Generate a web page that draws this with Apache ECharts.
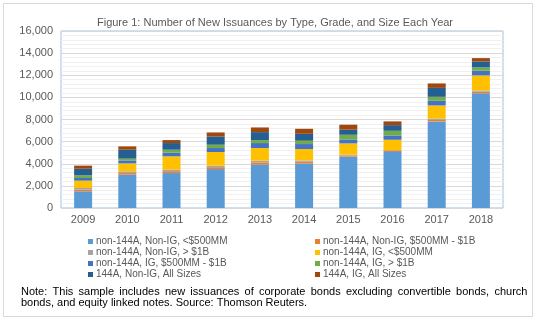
<!DOCTYPE html>
<html>
<head>
<meta charset="utf-8">
<script src="https://cdn.jsdelivr.net/npm/echarts@6/dist/echarts.min.js"></script>
<style>
html,body{margin:0;padding:0;background:#fff;}
#frame{position:absolute;left:3px;top:3px;width:530px;height:314px;border:1px solid #d9d9d9;box-sizing:border-box;}
#chart{position:absolute;left:0;top:0;width:540px;height:321px;}
</style>
</head>
<body>
<div id="frame"></div>
<div id="chart"></div>
<script>
const years = ['2009','2010','2011','2012','2013','2014','2015','2016','2017','2018'];
const nonIgSmall  = [1510, 3010, 3160, 3520, 3920, 4030, 4640, 5060, 7830, 10380];
const nonIgMid    = [160, 150, 170, 170, 200, 150, 100, 100, 130, 150];
const nonIgLarge  = [140, 150, 140, 140, 160, 120, 80, 80, 110, 100];
const igSmall     = [660, 720, 1200, 1230, 1140, 1030, 1020, 930, 1200, 1360];
const igMid       = [240, 270, 330, 360, 450, 450, 360, 390, 420, 420];
const igLarge     = [240, 160, 270, 300, 270, 300, 420, 420, 360, 300];
const a144NonIg   = [600, 810, 600, 750, 720, 630, 460, 510, 810, 540];
const a144Ig      = [280, 300, 270, 360, 420, 450, 450, 340, 400, 300];
const seriesNames = [
  'non-144A, Non-IG, <$500MM',
  'non-144A, Non-IG, $500MM - $1B',
  'non-144A, Non-IG, > $1B',
  'non-144A, IG, <$500MM',
  'non-144A, IG, $500MM - $1B',
  'non-144A, IG, > $1B',
  '144A, Non-IG, All Sizes',
  '144A, IG, All Sizes'
];
const seriesData = [nonIgSmall, nonIgMid, nonIgLarge, igSmall, igMid, igLarge, a144NonIg, a144Ig];
const colors = ['#5B9BD5','#ED7D31','#A5A5A5','#FFC000','#4472C4','#70AD47','#255E91','#9E480E'];
const noteLine1 = 'Note: This sample includes new issuances of corporate bonds excluding convertible bonds, church';
const noteLine2 = 'bonds, and equity linked notes. Source: Thomson Reuters.';

const chart = echarts.init(document.getElementById('chart'), null, {renderer:'canvas'});
const font = 'Liberation Sans, Arial, sans-serif';
const legendCommon = {
  orient: 'vertical', top: 236.5, itemWidth: 5, itemHeight: 5, itemGap: 1,
  icon: 'rect',
  textStyle: {fontFamily: font, fontSize: 10, color: '#595959', lineHeight: 10, padding: [0,0,0,-2]},
  padding: 0
};
chart.setOption({
  animation: false,
  color: colors,
  title: {
    text: 'Figure 1: Number of New Issuances by Type, Grade, and Size Each Year',
    left: 270, textAlign: 'center', top: 12,
    textStyle: {fontFamily: font, fontSize: 11, fontWeight: 'normal', color: '#595959'}
  },
  legend: [
    Object.assign({}, legendCommon, {left: 88, data: [seriesNames[0], seriesNames[2], seriesNames[4], seriesNames[6]]}),
    Object.assign({}, legendCommon, {left: 315, data: [seriesNames[1], seriesNames[3], seriesNames[5], seriesNames[7]]})
  ],
  grid: {left: 61, right: 37, top: 31, bottom: 113, show: true, borderColor: '#9DC3E6', borderWidth: 1, backgroundColor: 'transparent'},
  xAxis: {
    type: 'category', data: years,
    axisLine: {show: false}, axisTick: {show: false},
    axisLabel: {fontFamily: font, fontSize: 11, color: '#595959', margin: 6}
  },
  yAxis: {
    type: 'value', min: 0, max: 16000, interval: 2000,
    axisLine: {show: false}, axisTick: {show: false},
    axisLabel: {fontFamily: font, fontSize: 11, color: '#595959', margin: 8,
      formatter: v => v.toLocaleString('en-US')},
    splitLine: {lineStyle: {color: '#D9D9D9', width: 1}},
    minorTick: {show: false, splitNumber: 5},
    minorSplitLine: {show: true, lineStyle: {color: '#F0F0F0', width: 1}}
  },
  series: seriesNames.map((n, i) => ({
    name: n, type: 'bar', stack: 'total', data: seriesData[i],
    barWidth: 18
  })),
  graphic: [
    {type: 'text', left: 21, top: 286.5, style: {text: noteLine1.split(' ').join(' \u2009'), fontFamily: font, fontSize: 11, fill: '#000'}},
    {type: 'text', left: 21, top: 297.5, style: {text: noteLine2, fontFamily: font, fontSize: 11, fill: '#000'}}
  ]
});
</script>
</body>
</html>
